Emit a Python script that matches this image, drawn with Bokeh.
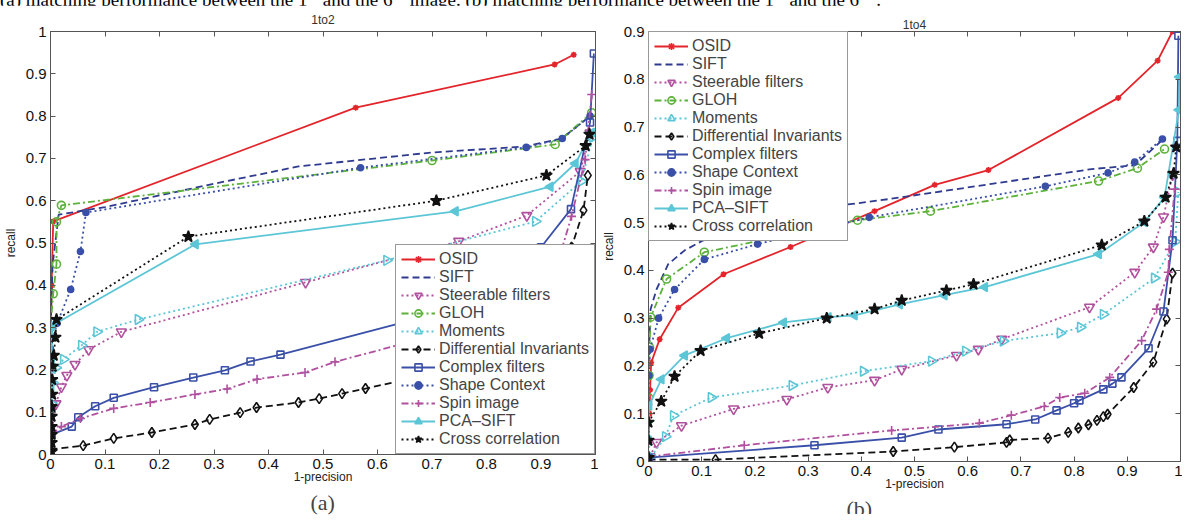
import math
from bokeh.plotting import figure
from bokeh.models import LinearAxis, FixedTicker, Title, Legend, LegendItem, Div, Range1d
from bokeh.layouts import row, column
from bokeh.embed import file_html
from bokeh.resources import INLINE

# ---------------- labels ----------------
series_labels = ["OSID", "SIFT", "Steerable filters", "GLOH", "Moments",
                 "Differential Invariants", "Complex filters", "Shape Context",
                 "Spin image", "PCA\u2013SIFT", "Cross correlation"]
tick_vals = [0, 0.1, 0.2, 0.3, 0.4, 0.5, 0.6, 0.7, 0.8, 0.9, 1]
tick_text = ["0", "0.1", "0.2", "0.3", "0.4", "0.5", "0.6", "0.7", "0.8", "0.9", "1"]
title_a = "1to2"
title_b = "1to4"
caption = ("(a) matching performance between the 1<sup>st</sup> and the 6<sup>th</sup> image. "
           "(b) matching performance between the 1<sup>st</sup> and the 6<sup>th</sup> .")

# ---------------- panel (a) data ----------------
a_osid_x = [0.0, 0.002, 0.005, 0.56, 0.925, 0.96]
a_osid_y = [0.25, 0.40, 0.551, 0.82, 0.922, 0.945]
a_sift_x = [0.0, 0.004, 0.015, 0.10, 0.30, 0.455, 0.70, 0.87, 0.938, 0.99]
a_sift_y = [0.30, 0.45, 0.567, 0.585, 0.64, 0.681, 0.714, 0.728, 0.747, 0.80]
a_steer_x = [0.002, 0.01, 0.02, 0.03, 0.045, 0.07, 0.13, 0.468, 0.749, 0.874, 0.972, 0.99]
a_steer_y = [0.05, 0.12, 0.16, 0.187, 0.213, 0.248, 0.29, 0.407, 0.504, 0.565, 0.669, 0.76]
a_gloh_x = [0.0, 0.005, 0.011, 0.011, 0.02, 0.70, 0.926, 0.993]
a_gloh_y = [0.30, 0.38, 0.45, 0.55, 0.589, 0.695, 0.733, 0.808]
a_mom_x = [0.002, 0.004, 0.01, 0.024, 0.057, 0.085, 0.161, 0.617, 0.89, 0.974, 0.995]
a_mom_y = [0.12, 0.17, 0.205, 0.225, 0.258, 0.29, 0.319, 0.459, 0.551, 0.646, 0.75]
a_diff_x = [0.0, 0.06, 0.116, 0.186, 0.265, 0.292, 0.348, 0.378, 0.455, 0.493, 0.535, 0.578, 0.70, 0.94, 0.956, 0.978, 0.986]
a_diff_y = [0.012, 0.021, 0.038, 0.052, 0.071, 0.083, 0.099, 0.111, 0.123, 0.132, 0.144, 0.156, 0.19, 0.35, 0.49, 0.577, 0.66]
a_cplx_x = [0.002, 0.039, 0.051, 0.082, 0.116, 0.19, 0.262, 0.32, 0.367, 0.422, 0.70, 0.90, 0.955, 0.99, 0.997]
a_cplx_y = [0.047, 0.066, 0.088, 0.114, 0.134, 0.159, 0.182, 0.199, 0.22, 0.236, 0.33, 0.49, 0.58, 0.785, 0.948]
a_shape_x = [0.0, 0.012, 0.037, 0.055, 0.065, 0.569, 0.873, 0.939, 0.99]
a_shape_y = [0.25, 0.31, 0.39, 0.48, 0.572, 0.678, 0.726, 0.747, 0.80]
a_spin_x = [0.002, 0.02, 0.055, 0.116, 0.183, 0.265, 0.324, 0.379, 0.467, 0.522, 0.70, 0.93, 0.956, 0.981, 0.993]
a_spin_y = [0.047, 0.066, 0.085, 0.109, 0.123, 0.142, 0.155, 0.178, 0.194, 0.219, 0.28, 0.45, 0.563, 0.697, 0.851]
a_pca_x = [0.0, 0.001, 0.002, 0.003, 0.266, 0.743, 0.917, 0.963, 0.993]
a_pca_y = [0.10, 0.16, 0.23, 0.305, 0.497, 0.575, 0.633, 0.688, 0.761]
a_cross_x = [0.002, 0.002, 0.002, 0.002, 0.002, 0.002, 0.003, 0.003, 0.004, 0.006, 0.009, 0.011,
             0.253, 0.708, 0.91, 0.982, 0.989]
a_cross_y = [0.007, 0.028, 0.047, 0.066, 0.09, 0.113, 0.142, 0.177, 0.208, 0.234, 0.277, 0.319,
             0.515, 0.60, 0.66, 0.73, 0.757]

# ---------------- panel (b) data ----------------
b_osid_x = [0.0, 0.002, 0.003, 0.005, 0.021, 0.056, 0.141, 0.267, 0.425, 0.538, 0.639, 0.883, 0.957, 0.985]
b_osid_y = [0.045, 0.10, 0.15, 0.207, 0.256, 0.322, 0.392, 0.449, 0.524, 0.579, 0.61, 0.761, 0.839, 0.90]
b_sift_x = [0.0, 0.002, 0.004, 0.015, 0.037, 0.068, 0.103, 0.137, 0.368, 0.457, 0.645, 0.833, 0.914, 0.968]
b_sift_y = [0.20, 0.26, 0.319, 0.36, 0.413, 0.442, 0.463, 0.473, 0.537, 0.55, 0.581, 0.612, 0.62, 0.675]
b_steer_x = [0.003, 0.015, 0.062, 0.16, 0.26, 0.337, 0.425, 0.476, 0.579, 0.62, 0.664, 0.829, 0.914, 0.949, 0.968, 0.985]
b_steer_y = [0.01, 0.04, 0.075, 0.11, 0.13, 0.155, 0.17, 0.193, 0.222, 0.235, 0.256, 0.323, 0.396, 0.449, 0.512, 0.60]
b_gloh_x = [0.0, 0.001, 0.002, 0.004, 0.034, 0.105, 0.393, 0.53, 0.846, 0.919, 0.97]
b_gloh_y = [0.134, 0.18, 0.239, 0.302, 0.382, 0.438, 0.505, 0.524, 0.587, 0.614, 0.654]
b_mom_x = [0.005, 0.032, 0.047, 0.118, 0.27, 0.404, 0.532, 0.596, 0.667, 0.774, 0.812, 0.855, 0.951, 0.99, 0.996]
b_mom_y = [0.01, 0.052, 0.096, 0.134, 0.159, 0.189, 0.21, 0.231, 0.252, 0.269, 0.281, 0.308, 0.384, 0.46, 0.564]
b_diff_x = [0.0, 0.126, 0.46, 0.575, 0.673, 0.679, 0.751, 0.789, 0.808, 0.827, 0.843, 0.855, 0.863, 0.912, 0.949, 0.974, 0.985]
b_diff_y = [0.004, 0.004, 0.021, 0.03, 0.04, 0.045, 0.049, 0.061, 0.07, 0.077, 0.086, 0.094, 0.099, 0.155, 0.208, 0.298, 0.394]
b_cplx_x = [0.0, 0.312, 0.476, 0.545, 0.673, 0.727, 0.767, 0.8, 0.81, 0.855, 0.872, 0.889, 0.94, 0.968, 0.985, 0.994, 0.996]
b_cplx_y = [0.008, 0.034, 0.05, 0.067, 0.078, 0.088, 0.107, 0.122, 0.128, 0.151, 0.163, 0.176, 0.237, 0.314, 0.463, 0.671, 0.891]
b_shape_x = [0.0, 0.001, 0.003, 0.019, 0.049, 0.105, 0.205, 0.415, 0.746, 0.864, 0.914, 0.966]
b_shape_y = [0.12, 0.18, 0.235, 0.30, 0.36, 0.423, 0.455, 0.511, 0.576, 0.604, 0.627, 0.675]
b_spin_x = [0.0, 0.18, 0.457, 0.622, 0.682, 0.744, 0.773, 0.82, 0.867, 0.927, 0.955, 0.977, 0.979, 0.989]
b_spin_y = [0.01, 0.034, 0.065, 0.08, 0.097, 0.115, 0.134, 0.143, 0.176, 0.253, 0.319, 0.396, 0.444, 0.57]
b_pca_x = [0.0, 0.001, 0.024, 0.068, 0.147, 0.254, 0.338, 0.387, 0.472, 0.556, 0.632, 0.846, 0.932, 0.97, 0.997, 0.998]
b_pca_y = [0.044, 0.117, 0.172, 0.222, 0.258, 0.291, 0.302, 0.306, 0.329, 0.348, 0.365, 0.434, 0.501, 0.553, 0.736, 0.805]
b_cross_x = [0.0, 0.0, 0.0, 0.024, 0.049, 0.098, 0.208, 0.335, 0.425, 0.476, 0.56, 0.611, 0.852, 0.932, 0.972, 0.987, 0.992]
b_cross_y = [0.008, 0.044, 0.082, 0.126, 0.178, 0.232, 0.268, 0.30, 0.319, 0.337, 0.358, 0.371, 0.453, 0.503, 0.553, 0.603, 0.658]

panel_a = [(a_osid_x, a_osid_y), (a_sift_x, a_sift_y), (a_steer_x, a_steer_y), (a_gloh_x, a_gloh_y),
           (a_mom_x, a_mom_y), (a_diff_x, a_diff_y), (a_cplx_x, a_cplx_y), (a_shape_x, a_shape_y),
           (a_spin_x, a_spin_y), (a_pca_x, a_pca_y), (a_cross_x, a_cross_y)]
panel_b = [(b_osid_x, b_osid_y), (b_sift_x, b_sift_y), (b_steer_x, b_steer_y), (b_gloh_x, b_gloh_y),
           (b_mom_x, b_mom_y), (b_diff_x, b_diff_y), (b_cplx_x, b_cplx_y), (b_shape_x, b_shape_y),
           (b_spin_x, b_spin_y), (b_pca_x, b_pca_y), (b_cross_x, b_cross_y)]

# ---------------- styles ----------------
RED = "#e3242b"; NAVY = "#2e3b8e"; MAG = "#b0509e"; GRN = "#5cb23a"; CYN = "#5cc6d6"
BLU = "#3a50a8"; BLK = "#111111"
# color, dash, marker, size, filled, angle
styles = [
    (RED, "solid", "asterisk", 6, False, 0),
    (NAVY, "7 4", None, 0, False, 0),
    (MAG, "2 3", "inverted_triangle", 10, False, 0),
    (GRN, "7 3 2 3", "circle", 8, False, 0),
    (CYN, "2 3", "triangle", 10, False, -math.pi / 2),
    (BLK, "7 4", "diamond", 10, False, 0),
    (BLU, "solid", "square", 7, False, 0),
    (BLU, "2 3", "circle", 6, True, 0),
    (MAG, "7 3 2 3", "cross", 9, False, 0),
    (CYN, "solid", "triangle", 9, True, math.pi / 2),
    (BLK, "2 3", "star", 12, True, 0),
]

AX = "#555555"
FONT = "Liberation Sans"


def style_axis(ax, labels):
    ax.ticker = FixedTicker(ticks=tick_vals)
    ax.major_tick_in = 5
    ax.major_tick_out = 0
    ax.minor_tick_in = 0
    ax.minor_tick_out = 0
    ax.axis_line_color = AX
    ax.major_tick_line_color = AX
    if labels:
        ax.major_label_overrides = dict(zip(tick_vals, tick_text))
        ax.major_label_text_font = FONT
        ax.major_label_text_font_size = "15px"
        ax.major_label_text_color = "#111111"
        ax.major_label_standoff = 4
        ax.axis_label_text_font = FONT
        ax.axis_label_text_font_size = "12px"
        ax.axis_label_text_font_style = "normal"
        ax.axis_label_text_color = "#222222"
    else:
        ax.major_label_text_font_size = "1px"
        ax.major_label_text_color = None
        ax.major_label_standoff = 0


def make_panel(data, ymax, title, title_standoff, sub, sub_offset, sub_standoff, sub_size,
               fw, fh, bl, br, bt, bb, legend_loc):
    p = figure(frame_width=fw, frame_height=fh, x_range=Range1d(0, 1), y_range=Range1d(0, ymax),
               output_backend="svg", toolbar_location=None,
               min_border_left=bl, min_border_right=br, min_border_top=bt, min_border_bottom=bb)
    p.xgrid.visible = False
    p.ygrid.visible = False
    p.outline_line_color = AX
    p.background_fill_color = "white"
    p.border_fill_color = "white"
    style_axis(p.xaxis[0], True)
    style_axis(p.yaxis[0], True)
    p.xaxis[0].axis_label = "1-precision"
    p.xaxis[0].axis_label_standoff = -2
    p.yaxis[0].axis_label = "recall"
    p.yaxis[0].axis_label_standoff = 5
    top_ax = LinearAxis(); style_axis(top_ax, False)
    right_ax = LinearAxis(); style_axis(right_ax, False)
    p.add_layout(top_ax, "above")
    p.add_layout(right_ax, "right")
    p.title.text = title
    p.title.text_font = FONT
    p.title.text_font_size = "12px"
    p.title.text_font_style = "normal"
    p.title.text_color = "#333333"
    p.title.align = "center"
    p.title.standoff = title_standoff
    p.add_layout(Title(text=sub, text_font="Liberation Serif", text_font_size=sub_size,
                       text_font_style="normal", align="left", offset=sub_offset,
                       standoff=sub_standoff), "below")

    items = []
    for (xs, ys), lab, (col, dash, mk, sz, filled, ang) in zip(data, series_labels, styles):
        rs = [p.line(xs, ys, line_color=col, line_width=1.8, line_dash=dash)]
        if mk is not None:
            rs.append(p.scatter(xs, ys, marker=mk, size=sz, angle=ang, line_color=col, line_width=1.6,
                                fill_color=col if filled else "white", fill_alpha=1.0 if filled else 0.0))
        items.append(LegendItem(label=lab, renderers=rs))
    leg = Legend(items=items, location=legend_loc, margin=0, padding=5, spacing=0,
                 glyph_width=34, glyph_height=18, label_height=18, label_standoff=4,
                 label_text_font=FONT, label_text_font_size="16px",
                 border_line_color="#333333", border_line_width=1,
                 background_fill_color="white", background_fill_alpha=1.0)
    p.add_layout(leg)
    return p


pa = make_panel(panel_a, 1.0, title_a, 10, "(a)", 260, 2, "22px", 545, 423, 44, 3, 24, 66, "bottom_right")
pb = make_panel(panel_b, 0.9, title_b, 0, "(b)", 198, 0, "22px", 532, 430, 47, 2, 20, 56, "top_left")

cap = Div(text='<div style="position:relative;top:-1px;font-family:\'Liberation Serif\';font-size:19px;'
               'line-height:20px;white-space:nowrap;color:#000">' + caption + '</div>',
          width=1173, height=20, margin=(-15, 0, 0, 0))

layout = column(cap, row(pa, pb))
open("out.html", "w").write(file_html(layout, INLINE))
